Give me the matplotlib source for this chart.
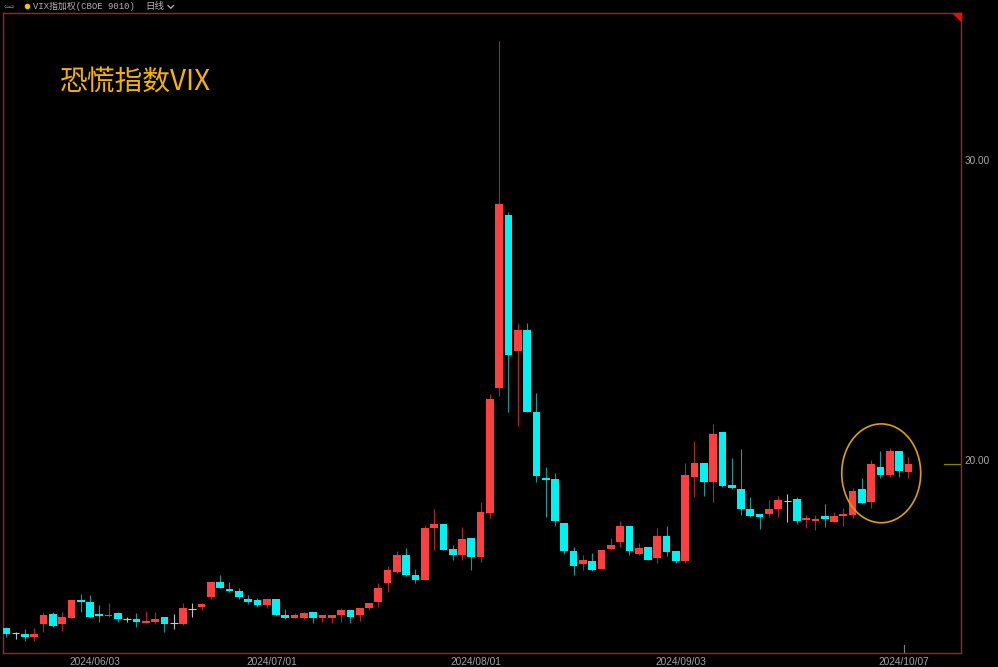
import matplotlib
matplotlib.use('Agg')
from matplotlib import pyplot as plt
from matplotlib.patches import Ellipse, Polygon
from matplotlib.lines import Line2D
import numpy as np
import pandas as pd

# -- trading days shown on the chart (US holidays removed)
holidays = ['2024-05-27', '2024-06-19', '2024-07-04', '2024-09-02']
dates = pd.bdate_range('2024-05-17', '2024-10-07')
dates = dates[~dates.isin(pd.to_datetime(holidays))]

# -- daily candles
opens = [14.36, 14.20, 14.16, 14.07, 14.51, 14.83, 14.50, 14.72, 15.31, 15.25,
         14.83, 14.76, 14.86, 14.66, 14.66, 14.55, 14.58, 14.75, 14.53, 14.51,
         15.01, 15.07, 15.40, 15.90, 15.67, 15.61, 15.34, 15.30, 15.14, 15.35,
         14.82, 14.72, 14.72, 14.91, 14.72, 14.72, 14.81, 14.96, 14.81, 15.05,
         15.24, 15.89, 16.24, 16.80, 16.14, 15.99, 17.70, 17.85, 17.00, 16.80,
         17.39, 16.73, 18.20, 22.38, 28.16, 23.62, 24.32, 21.58, 19.39, 19.34,
         17.89, 16.94, 16.50, 16.60, 16.34, 17.00, 17.25, 17.79, 16.84, 17.09,
         16.70, 17.45, 16.94, 16.62, 19.43, 19.88, 19.24, 20.93, 19.14, 19.01,
         18.35, 18.19, 18.19, 18.35, 18.61, 18.69, 17.99, 17.95, 18.10, 17.93,
         18.13, 18.14, 19.01, 18.58, 19.75, 19.48, 20.28, 19.59]
highs = [14.42, 14.24, 14.34, 14.36, 14.90, 14.90, 14.90, 15.31, 15.50, 15.48,
         15.14, 15.20, 14.92, 14.75, 14.88, 14.95, 14.90, 14.75, 14.83, 15.20,
         15.20, 15.20, 15.90, 16.14, 15.90, 15.70, 15.48, 15.37, 15.35, 15.35,
         15.00, 14.86, 14.92, 14.91, 14.82, 14.82, 15.03, 14.96, 15.05, 15.21,
         15.87, 16.44, 16.95, 17.06, 16.33, 17.81, 18.35, 17.85, 17.15, 17.76,
         17.39, 18.59, 22.19, 33.98, 28.27, 24.55, 24.55, 22.23, 19.76, 19.54,
         17.89, 17.09, 16.81, 16.89, 16.99, 17.39, 17.95, 17.79, 17.20, 17.09,
         17.70, 17.79, 16.94, 19.87, 20.62, 19.88, 21.19, 20.93, 20.04, 20.34,
         18.76, 18.19, 18.65, 18.78, 18.84, 18.74, 18.15, 18.15, 18.50, 18.26,
         18.37, 19.04, 19.39, 19.98, 20.28, 20.37, 20.28, 20.07]
lows = [14.08, 14.01, 13.94, 13.94, 14.25, 14.42, 14.27, 14.70, 14.92, 14.75,
        14.56, 14.75, 14.58, 14.56, 14.42, 14.53, 14.50, 14.25, 14.34, 14.47,
        14.75, 14.97, 15.34, 15.70, 15.59, 15.34, 15.18, 15.09, 15.03, 14.81,
        14.66, 14.70, 14.66, 14.55, 14.58, 14.55, 14.58, 14.55, 14.61, 14.97,
        15.09, 15.59, 16.22, 16.11, 15.87, 15.98, 16.98, 16.98, 16.64, 16.64,
        16.31, 16.59, 18.05, 22.13, 21.58, 21.13, 21.58, 19.26, 18.09, 17.78,
        16.83, 16.14, 16.31, 16.29, 16.34, 17.00, 17.09, 16.81, 16.81, 16.64,
        16.53, 16.78, 16.53, 16.53, 18.76, 18.78, 18.59, 19.07, 19.01, 18.15,
        18.07, 17.68, 18.09, 18.09, 17.92, 17.85, 17.70, 17.65, 17.74, 17.90,
        17.78, 18.04, 18.54, 18.39, 19.39, 19.43, 19.43, 19.39]
closes = [14.16, 14.20, 14.07, 14.16, 14.81, 14.45, 14.75, 15.31, 15.24, 14.75,
          14.76, 14.82, 14.66, 14.66, 14.56, 14.61, 14.66, 14.51, 14.53, 15.05,
          15.01, 15.17, 15.90, 15.70, 15.61, 15.40, 15.24, 15.14, 15.35, 14.81,
          14.72, 14.82, 14.86, 14.72, 14.82, 14.82, 14.96, 14.75, 15.05, 15.21,
          15.71, 16.31, 16.80, 16.14, 15.99, 17.70, 17.85, 16.98, 16.80, 17.36,
          16.73, 18.25, 22.01, 28.53, 23.49, 24.32, 21.58, 19.45, 19.31, 17.95,
          16.94, 16.45, 16.64, 16.31, 16.99, 17.16, 17.79, 16.94, 17.06, 16.64,
          17.45, 16.90, 16.61, 19.48, 19.88, 19.24, 20.84, 19.13, 19.04, 18.35,
          18.12, 18.09, 18.36, 18.65, 18.61, 17.94, 18.06, 18.01, 18.00, 18.11,
          18.15, 18.96, 18.54, 19.85, 19.48, 20.28, 19.63, 19.85]

tick_dates = ['2024-06-03', '2024-07-01', '2024-08-01', '2024-09-03', '2024-10-07']
y_ticks = [20, 30]

df = pd.DataFrame({'open': opens, 'high': highs, 'low': lows, 'close': closes}, index=dates)
x = np.arange(len(df))
o = df['open'].values
h = df['high'].values
l = df['low'].values
c = df['close'].values

up = c > o
down = c < o
flat = c == o

RED = '#ff3f3f'
CYAN = '#00f2f2'

fig = plt.figure(figsize=(9.98, 6.67), dpi=100, facecolor='black')
ax = fig.add_axes([3/998, 14/667, 958/998, 640/667])
ax.set_facecolor('black')
ax.set_xlim(-0.355, 102.66)
ax.set_ylim(13.54, 34.91)

for s in ax.spines.values():
    s.set_color('#b01c1c')
    s.set_linewidth(1.0)

# -- wicks
wick_colors = np.where(up, '#b02424', np.where(down, '#0f9c9c', '#c0c0c0'))
ax.vlines(x, l, h, colors=wick_colors, linewidth=0.8, zorder=2)

# -- bodies (red = up, cyan = down, grey cross = unchanged)
ax.bar(x[up], np.maximum(c - o, 0.05)[up], bottom=o[up], width=0.83, color=RED, linewidth=0, zorder=3)
ax.bar(x[down], np.maximum(o - c, 0.05)[down], bottom=c[down], width=0.83, color=CYAN, linewidth=0, zorder=3)
ax.hlines(c[flat], x[flat] - 0.415, x[flat] + 0.415, colors='#c8c8c8', linewidth=0.8, zorder=3)

# -- date labels sit on the left edge of the candle slot
tick_pos = [dates.get_loc(pd.Timestamp(d)) - 0.5 for d in tick_dates]
ax.set_xticks(tick_pos)
ax.set_xticklabels([d.replace('-', '/') for d in tick_dates], family='Liberation Sans')
ax.tick_params(axis='x', length=0, pad=3, labelsize=7.3, labelcolor='#a4a4a4')
ax.plot([tick_pos[-1]] * 2, [0, 0.0125], transform=ax.get_xaxis_transform(), color='#808080', lw=0.8)

ax.yaxis.tick_right()
ax.set_yticks(y_ticks)
ax.set_yticklabels(['%.2f' % v for v in y_ticks], family='Liberation Sans')
ax.tick_params(axis='y', length=0, pad=2.5, labelsize=7.2, labelcolor='#a8a8a8')

# -- last price marker
ax.plot([100.85, 102.66], [c[-1], c[-1]], color='#8c8400', lw=0.9, zorder=4)

# -- circle round the last days
ax.add_patch(Ellipse((94.08, 19.54), 8.49, 3.30, fill=False, edgecolor='#dba100', lw=1.2, zorder=5))

# -- title
fig.text(60/998, 1 - 83/667, '恐慌指数VIX', fontsize=20, color='#f5b400',
         family=['Noto Sans CJK SC'], va='center', ha='left')

# -- header bar
fig.text(4/998, 1 - 6/667, '⇦⇨', fontsize=5, color='#9a9a9a', family='DejaVu Sans', va='center')
fig.add_artist(Line2D([27/998], [1 - 6/667], marker='o', markersize=3, color='#e6c800', lw=0))
fig.text(33/998, 1 - 6.5/667, 'VIX指加权(CBOE 9010)', fontsize=6.4, color='#b4b4b4',
         family=['Liberation Mono', 'Noto Sans CJK SC'], va='center')
fig.text(145/998, 1 - 6.5/667, '日线', fontsize=6.8, color='#b4b4b4',
         family=['Noto Sans CJK SC'], va='center')
fig.add_artist(Line2D([168/998, 170.8/998, 173.5/998], [1 - 5.5/667, 1 - 8.3/667, 1 - 5.5/667],
                      color='#b4b4b4', lw=0.9))

# -- red corner flag
fig.add_artist(Polygon([[953/998, 1 - 13/667], [961/998, 1 - 13/667], [961/998, 1 - 21/667]],
                       closed=True, color='#e01010', transform=fig.transFigure))

fig.savefig('out.png', dpi=100, facecolor='black')
